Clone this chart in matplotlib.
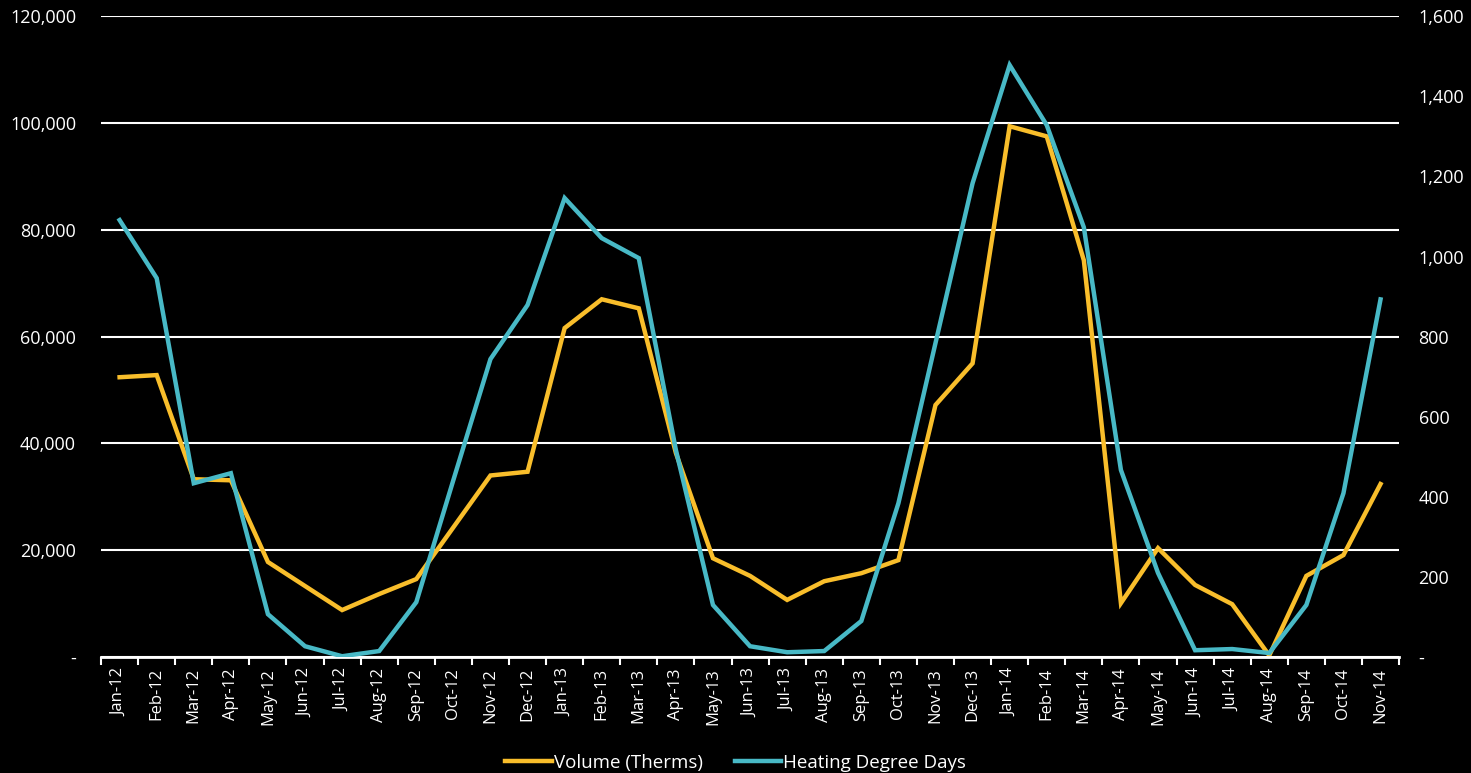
import matplotlib
matplotlib.use('Agg')
import matplotlib.pyplot as plt
from matplotlib.ticker import FuncFormatter, MultipleLocator

# data
months = ['Jan-12', 'Feb-12', 'Mar-12', 'Apr-12', 'May-12', 'Jun-12', 'Jul-12', 'Aug-12',
          'Sep-12', 'Oct-12', 'Nov-12', 'Dec-12', 'Jan-13', 'Feb-13', 'Mar-13', 'Apr-13',
          'May-13', 'Jun-13', 'Jul-13', 'Aug-13', 'Sep-13', 'Oct-13', 'Nov-13', 'Dec-13',
          'Jan-14', 'Feb-14', 'Mar-14', 'Apr-14', 'May-14', 'Jun-14', 'Jul-14', 'Aug-14',
          'Sep-14', 'Oct-14', 'Nov-14']
volume = [52400, 52800, 33300, 33100, 17800, 13300, 8800, 11800,
          14600, 24300, 34000, 34700, 61600, 67000, 65300, 38200,
          18500, 15200, 10700, 14200, 15700, 18150, 47200, 55000,
          99400, 97500, 74300, 10100, 20400, 13500, 9900, 300,
          15200, 19100, 32400]
hdd = [1091, 946, 434, 459, 107, 27, 2, 15,
       137, 442, 744, 879, 1146, 1046, 996, 517,
       130, 27, 12, 15, 90, 384, 784, 1183,
       1478, 1328, 1073, 467, 210, 17, 20, 10,
       130, 409, 893]

vol_color = '#F9BE2B'
hdd_color = '#48B9C6'
font = ['Open Sans', 'DejaVu Sans']

plt.rcParams['font.family'] = font
fig = plt.figure(figsize=(14.71, 7.73), dpi=100, facecolor='black')
ax = fig.add_axes([0.0687, 0.150, 0.8824, 0.829])
ax.set_facecolor('black')
ax2 = ax.twinx()

x = range(len(months))
l1, = ax.plot(x, volume, color=vol_color, lw=3.2, solid_joinstyle='miter', label='Volume (Therms)')
l2, = ax2.plot(x, hdd, color=hdd_color, lw=3.2, solid_joinstyle='miter', label='Heating Degree Days')

ax.set_ylim(0, 120000)
ax2.set_ylim(0, 1600)
ax.set_xlim(-0.5, len(months) - 0.5)
ax.yaxis.set_major_locator(MultipleLocator(20000))
ax2.yaxis.set_major_locator(MultipleLocator(200))

fmt = FuncFormatter(lambda v, p: '-' if v == 0 else f'{v:,.0f}')
ax.yaxis.set_major_formatter(fmt)
ax2.yaxis.set_major_formatter(fmt)

ax.grid(axis='y', color='white', lw=1.5)
ax.set_axisbelow(True)

ax.set_xticks(list(x))
ax.set_xticklabels(months, rotation=90)
ax.set_xticks([i - 0.5 for i in range(len(months) + 1)], minor=True)
ax.tick_params(axis='x', which='major', length=0, pad=8, colors='white', labelsize=12)
ax.tick_params(axis='x', which='minor', length=6, width=1.5, color='white', direction='out')
ax.tick_params(axis='y', length=0, pad=18, colors='white', labelsize=13)
ax2.tick_params(axis='y', length=0, pad=14, colors='white', labelsize=13)

for a in (ax, ax2):
    for s in a.spines.values():
        s.set_visible(False)
ax.spines['bottom'].set_visible(True)
ax.spines['bottom'].set_color('white')
ax.spines['bottom'].set_linewidth(2)

leg = fig.legend(handles=[l1, l2], loc='lower center', bbox_to_anchor=(0.5, -0.02), ncol=2,
                 frameon=False, fontsize=13.5, handlelength=2.5, handletextpad=0.1,
                 columnspacing=1.7)
for t in leg.get_texts():
    t.set_color('white')

fig.savefig('out.png', dpi=100, facecolor='black')
